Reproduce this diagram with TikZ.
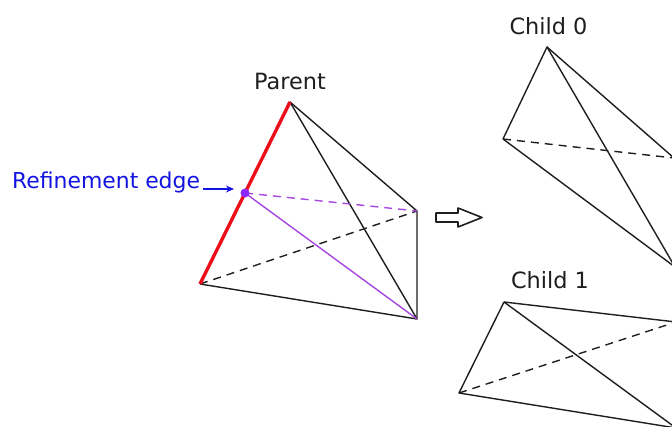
\documentclass[tikz,border=0pt]{standalone}
\usepackage{fontspec}
\setmainfont{DejaVu Sans}
\usetikzlibrary{arrows.meta}
\definecolor{edgeblue}{RGB}{20,20,225}
\definecolor{splitpurple}{RGB}{165,70,225}
\definecolor{dotpurple}{RGB}{140,40,250}
\definecolor{inkgrey}{RGB}{30,30,30}
\definecolor{edgered}{RGB}{235,15,25}
\tikzset{
  edgeline/.style={draw=inkgrey,line width=1.4pt,line join=round},
  hiddenline/.style={edgeline,dash pattern=on 8pt off 6pt},
  label/.style={inner sep=0pt,text=inkgrey,font=\fontsize{22.4}{26}\selectfont,anchor=base},
}
\begin{document}
\begin{tikzpicture}[x=1pt,y=-1pt]
\useasboundingbox (0,0) rectangle (672,427);
\clip (0,0) rectangle (672,427);
% parent
\coordinate (pt) at (290,102);
\coordinate (pl) at (200,284);
\coordinate (pr) at (417,211);
\coordinate (pb) at (417,319);
\coordinate (pm) at (245,193);
\draw[edgeline] (pt) -- (pr) -- (pb) -- (pl);
\draw[edgeline] (pt) -- (pb);
\draw[hiddenline] (pl) -- (pr);
\draw[splitpurple,line width=1.4pt] (pm) -- (pb);
\draw[splitpurple,line width=1.4pt,dash pattern=on 8pt off 6pt] (pm) -- (pr);
\draw[edgered,line width=3.4pt] (pl) -- (pt);
\fill[dotpurple] (pm) circle (4.5pt);
\node[label] (parent) at (290,90) {Parent};
% refinement label
\node[label,text=edgeblue,anchor=base west,font=\fontsize{21.9}{26}\selectfont] (ref) at (12,189) {Refinement edge};
\coordinate (refend) at (234,189);
\draw[edgeblue,line width=1.4pt,-{Stealth[length=8pt,width=7pt]}] (ref.base east)++(3,0) -- (refend);
% block arrow
\draw[edgeline,line width=1.6pt] (436,213) -- (458,213) -- (458,208) -- (482,217.5) -- (458,227) -- (458,222) -- (436,222) -- cycle;
% child 0
\coordinate (at) at (547,47);
\coordinate (al) at (503,139);
\coordinate (ar) at (674,158);
\coordinate (ab) at (675,267);
\draw[edgeline] (al) -- (at) -- (ar);
\draw[edgeline] (at) -- (ab) -- (al);
\draw[hiddenline] (al) -- (ar);
\node[label] (child0) at (548.5,35) {Child 0};
% child 1
\coordinate (bt) at (504,302);
\coordinate (bl) at (459,393);
\coordinate (br) at (676,322);
\coordinate (bb) at (676,428);
\draw[edgeline] (bt) -- (bl) -- (bb);
\draw[edgeline] (bt) -- (br);
\draw[edgeline] (bt) -- (bb);
\draw[hiddenline] (bl) -- (br);
\node[label] (child1) at (550,289) {Child 1};
\end{tikzpicture}
\end{document}
